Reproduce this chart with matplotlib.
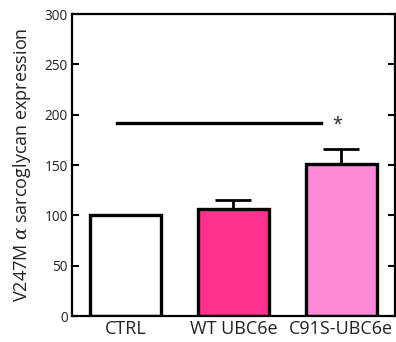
import numpy as np
import matplotlib
matplotlib.use("Agg")
import matplotlib.pyplot as plt

GROUPS = ["CTRL", "WT UBC6e", "C91S-UBC6e"]
MEANS = [100, 106.5, 151.5]
ERRS = [0, 9, 14]
COLORS = ["#FFFFFF", "#FF318F", "#FF8AD8"]
SIG_Y = 192

plt.rcParams.update({
    "font.family": ["Open Sans", "DejaVu Sans"],
    "font.size": 10,
    "text.color": "#222222",
    "axes.labelcolor": "#222222",
    "xtick.color": "#222222",
    "ytick.color": "#222222",
    "mathtext.fontset": "dejavuserif",
})

fig = plt.figure(figsize=(3.96, 3.42), dpi=100)
ax = fig.add_axes([0.182, 0.076, 0.815, 0.883])

x = np.arange(len(GROUPS))
ax.bar(x, MEANS, width=0.66, color=COLORS, edgecolor="black",
       linewidth=2.4, zorder=2)
ax.errorbar(x, MEANS, yerr=[np.zeros(len(ERRS)), ERRS], fmt="none",
            ecolor="black", elinewidth=2.0, capsize=13, capthick=2.0, zorder=1)

# significance bar
ax.plot([-0.08, 1.81], [SIG_Y, SIG_Y], color="black", linewidth=2.4)
ax.text(1.96, SIG_Y - 2, "*", ha="center", va="center", fontsize=13)

ax.set_xlim(-0.5, 2.5)
ax.set_ylim(0, 300)
ax.set_yticks(range(0, 301, 50))
ax.set_xticks(x)
ax.set_xticklabels(GROUPS, fontsize=13)
ax.tick_params(axis="y", direction="in", length=5, width=1.5,
               right=True, labelsize=9.8, pad=3, colors="black",
               labelcolor="#222222")
ax.tick_params(axis="x", length=0, pad=3)
for s in ax.spines.values():
    s.set_linewidth(1.6)

ax.set_ylabel("V247M $\\alpha$ sarcoglycan expression", fontsize=13, labelpad=8)

fig.savefig("out.png", dpi=100)
